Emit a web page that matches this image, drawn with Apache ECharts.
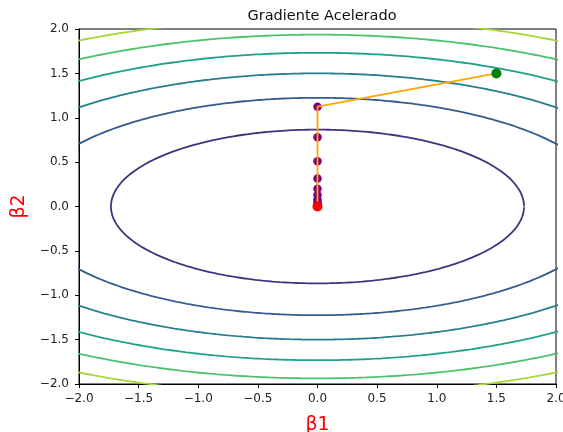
<!DOCTYPE html>
<html>
<head>
<meta charset="utf-8">
<script src="https://cdn.jsdelivr.net/npm/echarts@6/dist/echarts.min.js"></script>
<style>
  html, body { margin: 0; padding: 0; background: #fff; }
  #main { width: 563px; height: 432px; }
</style>
</head>
<body>
<div id="main"></div>
<script>
// contour levels of f(b1, b2) = b1^2 + 4*b2^2
const levels = [3, 6, 9, 12, 15, 18];
const levelColors = ["#46307e", "#375b8d", "#277f8e", "#1fa188", "#4cc26c", "#a2da37"];
const weightB1 = 1;
const weightB2 = 4;

// path of the accelerated gradient
const startPoint = [1.5, 1.5];
const pathB1 = [0, 0, 0, 0, 0, 0, 0, 0, 0, 0, 0, 0];
const pathB2 = [1.125, 0.78, 0.51, 0.315, 0.2, 0.13, 0.08, 0.05, 0.03, 0.018, 0.01, 0.005];
const endPoint = [0, 0];

function fmt(v) {
  return v.toFixed(1).replace("-", "\u2212");
}

// contour of the quadratic for one level
function contour(level) {
  const pts = [];
  const a = Math.sqrt(level / weightB1);
  const b = Math.sqrt(level / weightB2);
  for (let i = 0; i <= 720; i++) {
    const t = (i / 720) * Math.PI * 2;
    pts.push([a * Math.cos(t), b * Math.sin(t)]);
  }
  return pts;
}

const chart = echarts.init(document.getElementById("main"));

const series = [];
levels.forEach((lv, i) => {
  series.push({
    type: "line",
    data: contour(lv),
    showSymbol: false,
    symbol: "none",
    clip: true,
    lineStyle: { color: levelColors[i], width: 1.8 },
    z: 1,
  });
});

const pathPts = pathB1.map((x, i) => [x, pathB2[i]]);

series.push({
  type: "scatter",
  data: pathPts,
  symbolSize: 8.5,
  itemStyle: { color: "#800080", opacity: 1 },
  z: 2,
});
series.push({
  type: "line",
  data: [startPoint].concat(pathPts).concat([endPoint]),
  showSymbol: false,
  symbol: "none",
  lineStyle: { color: "#ffa500", width: 1.8 },
  z: 3,
});
series.push({
  type: "scatter",
  data: [startPoint],
  symbolSize: 10,
  itemStyle: { color: "#008000", opacity: 1 },
  z: 4,
});
series.push({
  type: "scatter",
  data: [endPoint],
  symbolSize: 10,
  itemStyle: { color: "#ff0000", opacity: 1 },
  z: 4,
});

const axisCommon = {
  type: "value",
  min: -2,
  max: 2,
  interval: 0.5,
  axisLine: { show: true, onZero: false, lineStyle: { color: "#000", width: 1 } },
  axisTick: { show: true, inside: false, length: 4, lineStyle: { color: "#000" } },
  splitLine: { show: false },
  axisLabel: {
    color: "#222",
    fontFamily: "DejaVu Sans",
    fontSize: 12,
    formatter: fmt,
  },
};

const option = {
  animation: false,
  backgroundColor: "#fff",
  title: {
    text: "Gradiente Acelerado",
    left: 317,
    textAlign: "center",
    top: 4,
    textStyle: { fontFamily: "DejaVu Sans", fontSize: 14.5, fontWeight: "normal", color: "#111" },
  },
  grid: {
    left: 79,
    right: 7,
    top: 29,
    bottom: 48,
    containLabel: false,
    outerBoundsMode: "none",
    show: true,
    borderColor: "#000",
    borderWidth: 1,
    backgroundColor: "transparent",
  },
  xAxis: Object.assign({}, axisCommon, {
    name: "\u03b21",
    nameLocation: "middle",
    nameGap: 32,
    nameTextStyle: { color: "#ff0000", fontSize: 19, fontFamily: "DejaVu Sans" },
    axisLabel: Object.assign({}, axisCommon.axisLabel, { margin: 9 }),
  }),
  yAxis: Object.assign({}, axisCommon, {
    name: "\u03b22",
    nameLocation: "middle",
    nameGap: 47,
    nameTextStyle: { color: "#ff0000", fontSize: 19, fontFamily: "DejaVu Sans" },
    axisLabel: Object.assign({}, axisCommon.axisLabel, { margin: 10 }),
  }),
  series: series,
};

chart.setOption(option);
</script>
</body>
</html>
